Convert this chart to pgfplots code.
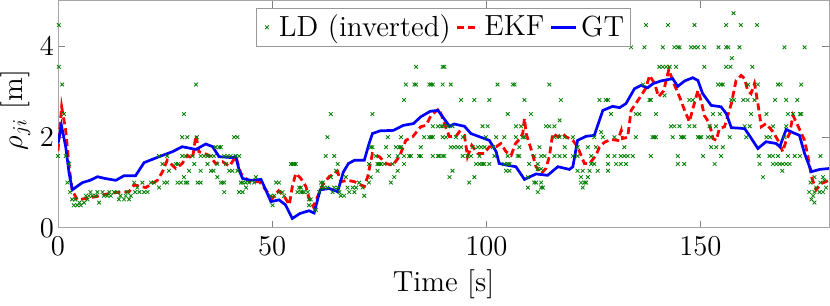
\documentclass[border=0pt]{standalone}
\usepackage{pgfplots}
\pgfplotsset{compat=1.18}
\definecolor{ldgreen}{RGB}{0,128,0}
\pgfplotsset{
  ldleg/.style={legend image code/.code={\path[draw=none,fill=none] (0bp,0bp) (8bp,0bp); \draw[##1] plot coordinates {(4bp,0bp)};}},
  ekfleg/.style={legend image code/.code={\draw[##1] (0bp,0bp) -- (11bp,0bp);}},
  gtleg/.style={legend image code/.code={\draw[##1] (0bp,0bp) -- (12.5bp,0bp);}},
}
\begin{document}%
\begin{tikzpicture}[font=\fontsize{14.6}{17}\selectfont]
\begin{axis}[
  name=main,
  scale only axis, width=385.5bp, height=113.5bp,
  xmin=0, xmax=180, ymin=0, ymax=5,
  xtick={0,50,100,150}, ytick={0,2,4},
  tick align=inside, tick pos=both, major tick length=3.5bp,
  axis line style={black!35, line width=0.5bp},
  tick style={black!50, line width=0.5bp},
  xticklabel style={yshift=-1.2bp},
  yticklabel style={xshift=1.5bp},
  xlabel={Time [s]},
  ylabel={$\rho_{ji}$ [m]},
  every axis x label/.style={at={(axis description cs:0.5,0)}, anchor=base, yshift=-32bp},
  every axis y label/.style={at={(axis description cs:-0.0555,0.52)}, anchor=center, rotate=90, inner sep=0pt},
  legend columns=3,
  legend style={at={(0.5,1)}, anchor=north, yshift=-3.5bp, draw=black!40, line width=0.5bp, fill=white, inner sep=1.2bp,
    /tikz/every even column/.append style={column sep=0.5bp}},
  clip=true,
]
\addplot[only marks, mark=x, color=ldgreen, mark size=1.3bp, mark options={line width=0.4bp}, ldleg] coordinates {
(0.2,4.47) (0.2,3.55) (1.0,3.16) (1.4,2.51) (0.0,1.585) (1.8,1.585) (2.6,1.41) (2.2,1.00) (2.8,0.79) (3.3,0.63)
(3.7,0.50) (4.5,0.50) (5.3,0.50) (6.1,0.56) (6.9,0.63) (7.6,0.79) (8.0,0.71) (8.8,0.71) (9.6,0.56) (10.4,0.79)
(10.7,0.71) (12.3,0.71) (13.1,0.79) (13.9,0.79) (14.6,0.71) (15.4,0.63) (16.2,0.79) (17.0,0.71) (17.8,1.00) (18.5,0.89)
(19.7,1.00) (20.1,0.79) (20.9,0.79) (21.7,1.00) (22.4,1.00) (23.6,0.89) (23.6,1.585) (25.5,1.585) (24.4,1.41) (25.9,1.26)
(24.8,1.00) (25.5,1.00) (27.9,1.00) (28.7,1.00) (29.8,1.00) (27.5,1.41) (28.0,1.41) (29.4,2.51) (29.0,2.00) (30.2,2.00)
(29.0,1.585) (29.8,1.585) (30.6,1.26) (29.4,1.12) (31.8,1.41) (32.2,3.16) (32.4,2.00) (32.6,1.00) (33.3,1.00) (33.3,1.585)
(34.1,1.585) (34.9,1.585) (35.7,1.585) (36.4,1.585) (33.3,1.26) (35.7,1.26) (36.3,1.26) (36.8,1.78) (37.6,1.78) (38.0,1.78)
(37.2,1.41) (39.2,1.41) (34.9,1.41) (38.4,1.00) (38.8,0.79) (38.8,1.585) (39.6,1.585) (40.3,1.585) (41.5,1.585) (42.3,1.585)
(40.0,1.26) (40.7,1.26) (41.9,1.26) (41.1,2.00) (41.9,2.00) (42.7,1.00) (43.1,1.00) (43.8,1.00) (44.6,1.00) (42.3,0.79)
(43.1,0.79) (37.2,1.12) (38.0,1.00) (38.8,1.00) (31.4,1.585) (30.2,1.00) (43.9,0.89) (45.8,1.00) (46.2,1.12)
(4.0,0.63) (5.0,0.56) (6.5,0.71) (7.2,0.71) (9.2,0.79) (11.5,0.71) (12.0,0.79) (14.2,0.63) (15.8,0.71) (16.6,0.63) (18.0,0.79) (19.0,0.79)
(50.1,0.50) (49.7,0.71) (50.5,0.71) (50.9,1.00) (51.6,1.00) (51.6,0.79) (52.4,0.79) (52.8,0.71) (54.4,1.41) (54.8,1.41)
(55.1,1.41) (55.5,1.41) (55.9,0.79) (56.3,0.89) (56.7,0.89) (56.7,0.79) (57.1,0.79) (57.5,0.79) (58.3,0.79) (58.6,0.63)
(59.0,0.63) (58.6,0.50) (60.2,0.40)
(61.4,1.00) (61.8,1.00) (61.0,0.79) (61.5,0.89) (62.1,0.89) (62.9,0.89) (64.1,0.79) (64.5,0.89) (65.3,0.89) (65.7,0.79)
(66.0,0.71) (66.8,0.71) (67.6,0.89) (68.0,0.79) (68.8,0.89) (69.2,0.79) (69.6,0.89) (71.5,0.71) (71.1,0.89) (70.3,1.00)
(63.7,1.12) (64.9,1.26) (65.3,1.41) (67.2,1.12) (62.5,1.585) (64.5,1.585) (62.9,2.00) (63.7,2.51) (73.4,2.51) (73.0,1.78)
(73.4,1.78) (72.6,1.41) (74.6,1.41) (75.0,1.41) (75.4,1.41) (76.2,1.41) (74.2,1.585) (74.6,1.26) (73.0,1.12) (72.6,1.00)
(77.0,2.00) (76.6,1.78) (78.9,1.78) (79.7,1.78) (80.1,2.00) (80.1,1.78) (77.3,1.585) (78.1,1.41) (79.3,1.585) (80.8,1.585)
(82.0,1.585) (82.4,1.585) (77.7,1.00) (78.5,1.12) (79.3,1.26) (80.8,1.41) (80.8,2.82) (81.2,3.16) (83.2,3.16) (83.6,3.16)
(83.6,3.55) (86.7,3.16) (87.1,3.16) (87.5,3.16) (89.8,3.16) (89.8,3.55) (84.7,1.78) (84.3,1.585) (84.7,1.585) (87.5,1.585)
(88.7,1.585) (89.0,1.585) (89.8,1.585) (85.5,2.00) (86.7,2.00) (87.1,2.00) (87.5,2.00) (89.8,2.00) (87.5,2.24) (88.7,2.24)
(89.5,2.24) (89.8,2.24)
(90.2,3.55) (91.7,3.16) (94.1,2.82) (97.2,2.82) (100.7,2.82) (102.6,3.16) (106.2,3.16) (106.6,3.16) (114.7,3.16) (108.9,2.82)
(117.4,2.82) (105.0,2.51) (110.4,2.51) (117.1,2.37) (91.0,2.24) (92.1,2.24) (99.1,2.24) (100.3,2.24) (106.9,2.24) (108.1,2.24)
(113.9,2.24) (114.7,2.24) (115.9,2.24) (90.6,2.00) (92.9,2.00) (94.5,2.00) (99.9,2.00) (102.3,2.00) (104.2,2.00) (106.9,2.00)
(108.5,2.00) (108.9,2.00) (115.9,2.00) (117.1,2.00) (118.3,2.00) (120.2,2.00) (91.7,1.78) (92.5,1.78) (93.3,1.78) (94.1,1.78)
(96.8,1.78) (98.0,1.78) (98.8,1.78) (99.6,1.78) (101.5,1.78) (107.7,1.78) (112.4,1.78) (118.3,1.78) (90.2,1.585) (94.5,1.585)
(95.6,1.585) (96.4,1.585) (98.4,1.585) (101.9,1.585) (105.0,1.585) (107.3,1.585) (107.7,1.585) (111.2,1.585) (112.8,1.585) (113.6,1.585)
(115.9,1.585) (117.1,1.585) (118.3,1.585) (120.2,1.585) (97.6,1.41) (98.4,1.41) (99.1,1.41) (99.5,1.41) (100.7,1.41) (104.2,1.41)
(105.0,1.41) (105.4,1.41) (110.0,1.41) (112.0,1.41) (104.6,1.26) (105.4,1.26) (112.0,1.30) (112.8,1.30) (91.4,1.12) (92.1,1.26)
(97.2,1.12) (109.7,1.12) (111.2,1.00) (111.6,1.00) (112.8,1.00) (113.2,0.89) (96.0,1.00) (109.7,0.89) (112.0,0.79) (112.8,0.89)
(137.3,4.47) (142.4,4.47) (148.6,4.47) (133.8,3.98) (136.9,3.98) (141.2,3.98) (143.9,3.98) (144.7,3.98) (145.1,3.98) (147.8,3.98)
(148.6,3.98) (149.4,3.98) (140.4,3.55) (141.2,3.55) (142.0,3.55) (142.8,3.55) (144.3,3.55) (150.9,3.55) (136.6,3.16) (141.6,2.92)
(126.4,2.82) (127.9,2.82) (128.4,2.82) (138.1,2.82) (138.4,2.82) (147.4,2.82) (148.2,2.82) (129.1,2.51) (134.9,2.51) (135.7,2.51)
(139.6,2.51) (143.1,2.24) (143.9,2.24) (145.1,2.24) (147.4,2.24) (148.6,2.24) (126.8,2.11) (125.2,2.00) (127.2,2.00) (129.9,2.00)
(134.9,2.00) (138.8,2.00) (139.2,2.00) (139.6,2.00) (143.5,2.00) (145.5,2.00) (145.8,2.00) (146.2,2.00) (149.4,2.00) (149.8,2.00)
(150.2,2.00) (121.3,1.78) (123.7,1.78) (125.6,1.78) (132.2,1.78) (121.3,1.585) (124.5,1.585) (128.4,1.585) (129.9,1.585) (131.4,1.585)
(132.2,1.585) (133.0,1.585) (134.2,1.585) (138.4,1.585) (144.7,1.585) (150.6,1.585) (124.5,1.41) (125.2,1.41) (128.4,1.41) (130.3,1.41)
(131.4,1.41) (132.6,1.41) (144.7,1.41) (146.2,1.41) (121.3,1.26) (122.5,1.26) (124.1,1.26) (126.0,1.26) (128.4,1.26) (122.1,1.12)
(123.7,1.12) (122.1,1.00) (122.9,1.00) (123.3,1.00) (122.5,0.89)
(157.7,4.73) (156.0,4.47) (159.4,4.47) (163.2,4.47) (150.9,3.98) (154.2,3.98) (156.0,3.98) (156.5,3.98) (159.1,3.98) (169.6,3.98)
(174.3,3.98) (157.3,3.74) (156.0,3.55) (157.0,3.55) (162.1,3.55) (154.1,3.16) (154.8,3.16) (155.2,3.16) (161.1,3.16) (163.4,3.16)
(168.1,3.16) (168.7,3.16) (173.5,3.16) (157.2,2.82) (157.8,2.82) (160.0,2.82) (161.0,2.82) (162.6,2.82) (167.4,2.82) (170.0,2.82)
(172.6,2.82) (152.9,2.51) (154.5,2.51) (161.8,2.51) (165.4,2.51) (170.4,2.51) (171.6,2.51) (173.2,2.51) (173.5,2.51) (152.1,2.24)
(153.6,2.24) (160.3,2.24) (161.5,2.24) (166.9,2.24) (170.0,2.24) (151.7,2.00) (152.5,2.00) (156.8,2.00) (160.7,2.00) (165.4,2.00)
(166.2,2.00) (169.6,2.00) (152.5,1.78) (153.7,1.78) (155.2,1.78) (154.8,1.585) (163.6,1.585) (166.1,1.585) (166.9,1.585) (168.1,1.585)
(170.4,1.585) (172.0,1.585) (173.2,1.585) (178.0,1.585) (153.3,1.41) (163.8,1.41) (166.9,1.41) (167.7,1.41) (168.5,1.41) (169.2,1.41)
(170.0,1.41) (170.8,1.41) (169.1,1.26) (164.6,1.12) (176.6,1.12) (178.6,1.12) (175.7,1.00) (178.0,1.00) (178.9,1.05) (175.4,0.79)
(176.6,0.79) (177.8,0.79) (178.6,0.79) (179.3,0.89) (176.3,0.71) (177.0,0.89) (175.9,0.63) (176.6,0.56)
};
\addlegendentry{LD (inverted)}
\addplot[red, line width=1.4bp, dash pattern=on 3.5bp off 2bp, ekfleg] coordinates {
(0,1.7) (0.85,2.67) (1.8,2.15) (2.6,1.35) (3.3,0.84) (4.5,0.62) (6.5,0.65) (8.8,0.69) (11.5,0.75) (13.5,0.78)
(16.6,0.80) (17.8,0.95) (20.5,0.89) (23.2,1.05) (24.4,1.24) (25.5,1.49) (27.5,1.31) (29,1.42) (30.2,1.60) (31.4,1.53)
(32.2,2.04) (32.9,1.68) (35.3,1.60) (36.8,1.42) (38.4,1.46) (40,1.36) (41.5,1.57) (42.7,1.20) (44.6,1.02) (47,1.02)
(48.5,0.84) (50,0.65) (51.5,0.82) (52.8,0.70) (54,0.51) (54.7,0.91) (55.5,1.20) (56.7,1.09) (57.9,0.91) (58.6,0.65)
(59.6,0.47) (60.6,0.69) (61.8,0.95) (63.3,1.13) (65.3,1.24) (66,1.02) (67.6,1.05) (69.2,1.02) (71.5,0.91) (72.3,1.13)
(73.4,1.64) (75,1.57) (76.6,1.42) (78.1,1.38) (79.7,1.57) (81.2,1.93) (82.8,2.01) (84.7,2.23) (85.9,2.26) (87.1,2.48)
(89,2.63) (90.2,2.30) (91.4,2.01) (92.9,2.02) (93.7,2.12) (94.9,2.04) (95.6,1.57) (96.6,1.82) (98,1.64) (99.5,1.64)
(100.7,1.79) (102.3,1.79) (103.4,1.86) (104.6,1.68) (105.8,1.60) (106.8,1.86) (107.7,1.95) (108.5,2.08) (108.9,2.41) (109.3,2.08)
(110.4,1.75) (111.6,1.35) (112.8,1.20) (113.9,1.31) (114.7,1.57) (115.5,2.08) (116.7,2.01) (117.8,2.08) (118.6,2.01) (120.2,1.93)
(121.3,1.79) (122.1,1.60) (122.9,1.42) (124.1,1.42) (125.6,1.60) (126.4,1.78) (127.6,1.89) (129.1,1.95) (130.7,1.93) (131.5,2.15)
(131.8,1.97) (133.0,2.00) (133.8,2.59) (134.9,2.74) (136.1,2.91) (137.3,3.09) (138.1,3.36) (139.3,3.18) (140.2,2.89) (141.4,3.02)
(142.6,3.49) (143.6,3.22) (145.1,2.89) (146.3,2.59) (147.4,2.34) (148.2,2.62) (149.4,3.03) (150.2,2.78) (150.9,2.48) (152.1,2.30)
(152.9,1.97) (153.7,1.93) (154.4,2.19) (155.6,2.23) (157.2,2.74) (158.3,3.25) (159.5,3.36) (160.3,3.29) (161,3.03) (161.8,2.96)
(162.6,3.18) (163.4,2.74) (164.2,2.23) (165.3,2.30) (166.9,2.12) (168.1,1.93) (169.2,1.68) (170,1.93) (170.8,2.08) (171.6,2.48)
(172.7,2.26) (174.3,1.93) (175.1,1.57) (175.9,1.13) (177,0.84) (178.2,0.98) (180,1.05)
};
\addlegendentry{EKF}
\addplot[blue, line width=1.35bp, gtleg] coordinates {
(0,1.86) (0.8,2.26) (1.8,1.79) (2.6,1.20) (3.35,0.84) (4.5,0.92) (5.7,1.0) (7.5,1.05) (9.2,1.13) (11,1.09) (13.5,1.05)
(15.4,1.15) (18.1,1.15) (20.1,1.44) (23.6,1.57) (26.7,1.68) (29.0,1.79) (32.2,1.73) (34.5,1.85) (36.1,1.79) (37.6,1.57)
(40.7,1.55) (41.5,1.58) (42.3,1.27) (43.1,1.09) (45,1.05) (47.4,1.07) (48.5,0.84) (49.7,0.58) (51.6,0.62) (53.1,0.51)
(54.7,0.21) (56.5,0.32) (58.6,0.38) (59.8,0.33) (61.2,0.84) (63.3,0.87) (65.3,0.80) (66.6,1.23) (67.8,1.42) (69.2,1.49)
(71.5,1.49) (72.6,1.85) (73.4,2.08) (75.2,2.14) (78.3,2.15) (80.6,2.26) (83,2.30) (84.7,2.45) (86.9,2.57) (88.7,2.59)
(89.8,2.45) (91.4,2.24) (92.5,2.29) (94.9,2.24) (96.4,2.08) (98.4,2.01) (100.7,1.93) (102.3,1.68) (103,1.42) (105,1.38)
(106.9,1.35) (108.9,1.07) (111.6,1.19) (114.3,1.16) (116.7,1.35) (119.4,1.29) (120.2,1.35) (121.3,1.93) (123.3,2.02) (125.2,2.04)
(127.2,2.59) (129.5,2.68) (131.1,2.65) (132.6,2.74) (134.6,3.07) (136.1,3.14) (137.7,3.09) (138.9,3.18) (140.8,3.24) (143.5,3.29)
(144.7,3.12) (146.3,3.24) (148.2,3.31) (149.4,3.25) (150.5,2.96) (152.5,2.70) (154.8,2.67) (156,2.52) (157.2,2.21) (160.3,2.19)
(161.4,2.04) (163.4,1.75) (165.3,1.90) (167.7,1.86) (168.5,1.79) (170,2.17) (171.6,2.10) (173.1,2.04) (174.3,1.64) (175.9,1.24)
(177.8,1.29) (180,1.31)
};
\addlegendentry{GT}
\end{axis}
\path (main.south west) ++(-29bp,-38bp);
\path (main.north east) ++(0.5bp,0.5bp);
\end{tikzpicture}%
\end{document}
